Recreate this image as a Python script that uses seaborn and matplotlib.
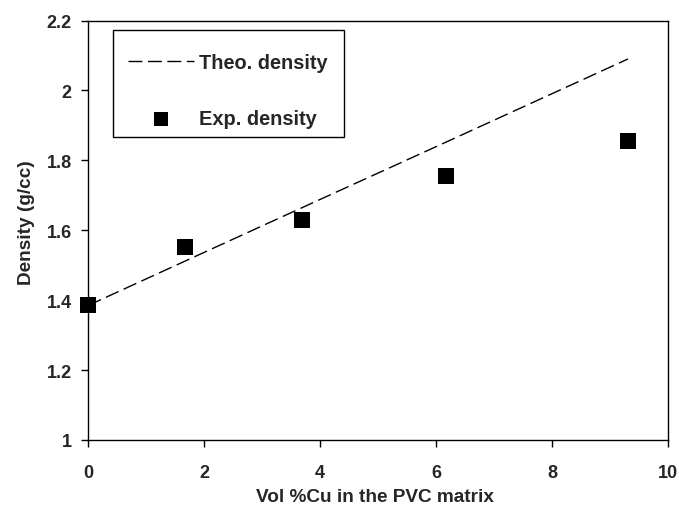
import pandas as pd
import matplotlib
matplotlib.use("Agg")
import matplotlib.pyplot as plt
from matplotlib.patches import Rectangle
import seaborn as sns

# volume % Cu and densities (g/cc)
vol_cu = [0.0, 1.66, 3.68, 6.17, 9.31]
exp_density = [1.385, 1.551, 1.628, 1.755, 1.854]
theo_density = [1.385, 1.511, 1.664, 1.852, 2.090]

x_ticks = [0, 2, 4, 6, 8, 10]
y_ticks = [1, 1.2, 1.4, 1.6, 1.8, 2, 2.2]
y_tick_labels = ["1", "1.2", "1.4", "1.6", "1.8", "2", "2.2"]


def main():
    sns.set_style("ticks")
    plt.rcParams["font.family"] = ["Liberation Sans", "DejaVu Sans"]
    plt.rcParams["font.weight"] = "bold"

    df = pd.DataFrame({"vol": vol_cu, "exp": exp_density, "theo": theo_density})

    fig = plt.figure(figsize=(6.79, 5.06), dpi=100)
    ax = fig.add_axes([0.130, 0.1285, 0.8538, 0.829])

    sns.lineplot(
        data=df, x="vol", y="theo", ax=ax, color="black", linewidth=1.0,
        linestyle=(0, (10, 4)), label="Theo. density",
    )
    sns.scatterplot(
        data=df, x="vol", y="exp", ax=ax, color="black", marker="s",
        s=135, edgecolor="black", linewidth=0, label="Exp. density",
        zorder=3, clip_on=False,
    )

    ax.set_xlim(0, 10)
    ax.set_ylim(1, 2.2)
    ax.set_xticks(x_ticks)
    ax.set_yticks(y_ticks)
    ax.set_yticklabels(y_tick_labels)
    ax.tick_params(axis="both", direction="out", length=5, width=1.0,
                   labelsize=13, color="black")
    ax.tick_params(axis="x", pad=12)
    ax.tick_params(axis="y", pad=7)
    for lab in ax.get_xticklabels() + ax.get_yticklabels():
        lab.set_fontweight("bold")

    for sp in ax.spines.values():
        sp.set_visible(True)
        sp.set_linewidth(1.0)
        sp.set_color("black")

    ax.set_xlabel("Vol %Cu in the PVC matrix", fontsize=13.7, fontweight="bold")
    ax.set_ylabel("Density (g/cc)", fontsize=13.7, fontweight="bold")
    ax.xaxis.set_label_coords(0.494, -0.114)
    ax.yaxis.set_label_coords(-0.092, 0.521)

    # legend frame drawn separately so the entries can sit lower inside it
    ax.add_patch(Rectangle((0.042, 0.7216), 0.3996, 0.2554, transform=ax.transAxes,
                           facecolor="white", edgecolor="black", linewidth=1.0,
                           zorder=4))
    leg = ax.legend(
        loc="upper left", bbox_to_anchor=(0.042, 0.9586), fontsize=14.4,
        frameon=False, borderpad=0.75, labelspacing=1.85, handlelength=3.3,
        handletextpad=0.25, borderaxespad=0, markerscale=0.83,
    )
    leg.set_zorder(5)
    for t in leg.get_texts():
        t.set_fontweight("bold")

    fig.savefig("out.png", dpi=100)
    plt.close(fig)


if __name__ == "__main__":
    main()
